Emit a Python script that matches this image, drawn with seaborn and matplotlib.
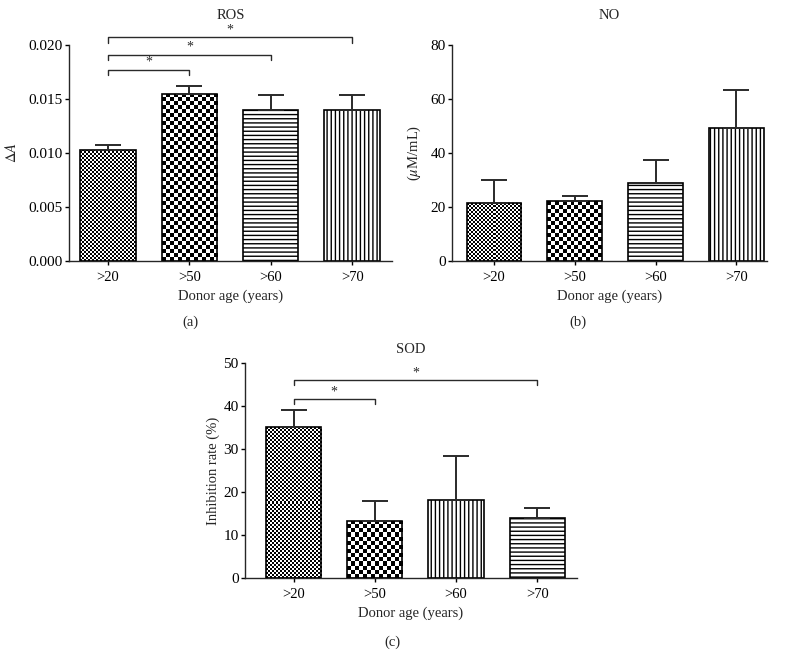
import numpy as np
import pandas as pd
import matplotlib
matplotlib.use("Agg")
import matplotlib.pyplot as plt
import seaborn as sns

# ---------------- data ----------------
ages = [">20", ">50", ">60", ">70"]

ros_mean = [0.0103, 0.0155, 0.0140, 0.0140]
ros_err = [0.0004, 0.0007, 0.0014, 0.0014]

no_mean = [21.3, 22.2, 28.8, 49.3]
no_err = [8.8, 1.7, 8.5, 14.2]

sod_mean = [35.1, 13.3, 18.1, 13.9]
sod_err = [3.9, 4.7, 10.3, 2.3]

ros_sig = [(0, 1, 0.0177), (0, 2, 0.0191), (0, 3, 0.0207)]
sod_sig = [(0, 1, 41.6), (0, 3, 46.0)]

ros_ticks = [0.000, 0.005, 0.010, 0.015, 0.020]
no_ticks = [0, 20, 40, 60, 80]
sod_ticks = [0, 10, 20, 30, 40, 50]

# ---------------- style ----------------
sns.set_style("ticks")
plt.rcParams["font.family"] = ["Liberation Serif", "DejaVu Serif"]
plt.rcParams["mathtext.fontset"] = "stix"
plt.rcParams["hatch.linewidth"] = 1.0
plt.rcParams["axes.linewidth"] = 1.0

DARK = "#2a2a2a"

fig = plt.figure(figsize=(7.85, 6.55), dpi=100)
W, H = 785.0, 655.0


def add_ax(l, r, top, bot):
    return fig.add_axes([l / W, 1 - bot / H, (r - l) / W, (bot - top) / H])


def checker(ax, patch, cell_px):
    x0, y0 = patch.get_x(), patch.get_y()
    w, h = patch.get_width(), patch.get_height()
    p0 = ax.transData.transform((x0, y0))
    p1 = ax.transData.transform((x0 + w, y0 + h))
    nx = max(1, int(round(abs(p1[0] - p0[0]) / cell_px)))
    ny = max(1, int(round(abs(p1[1] - p0[1]) / cell_px)))
    ii, jj = np.indices((ny, nx))
    arr = ((ii + jj) % 2).astype(float)
    im = ax.imshow(arr, cmap="gray", vmin=0, vmax=1, extent=[x0, x0 + w, y0, y0 + h],
                   aspect="auto", interpolation="nearest", origin="lower", zorder=1.5)
    im.set_clip_path(patch)


def panel(ax, means, errs, ticks, ylabel, title, title_y, ylab_x, patterns, xlim, fmt,
          sigs=None, sig_drop=None):
    df = pd.DataFrame({"age": ages, "val": means})
    sns.barplot(data=df, x="age", y="val", ax=ax, width=0.68, color="white",
                edgecolor="black", linewidth=1.2, errorbar=None, zorder=2)
    ax.set_xlim(*xlim)
    ax.set_ylim(ticks[0], ticks[-1])
    ax.set_yticks(ticks)
    ax.set_yticklabels([fmt.format(t) for t in ticks])
    for patch, pat in zip(ax.patches, patterns):
        if pat == "fine":
            patch.set_facecolor("none")
            patch.set_zorder(3)
            checker(ax, patch, 2.0)
        elif pat == "coarse":
            patch.set_facecolor("none")
            patch.set_zorder(3)
            checker(ax, patch, 4.0)
        elif pat == "h":
            patch.set_hatch("----")
        elif pat == "v":
            patch.set_hatch("||||")
    ax.set_xlim(*xlim)
    ax.set_ylim(ticks[0], ticks[-1])
    xs = np.arange(len(ages))
    ax.errorbar(xs, means, yerr=[np.zeros(len(errs)), errs], fmt="none",
                ecolor=DARK, elinewidth=1.4, capsize=9.5, capthick=1.4, zorder=4)
    if sigs:
        for a, b, hgt in sigs:
            ax.plot([a, a, b, b], [hgt - sig_drop, hgt, hgt, hgt - sig_drop], color=DARK,
                    lw=1.0, clip_on=False, zorder=5)
            ax.text((a + b) / 2, hgt + sig_drop * 0.15, "*", ha="center", va="bottom",
                    fontsize=10, color=DARK)
    ax.set_xlabel("Donor age (years)", fontsize=10.5, labelpad=4)
    ax.set_ylabel(ylabel, fontsize=10.5)
    ax.yaxis.set_label_coords(ylab_x, 0.5)
    ax.set_title(title, fontsize=10.5, pad=0, y=title_y)
    ax.tick_params(axis="both", direction="out", length=3, width=1.0, colors="black")
    ax.tick_params(axis="y", labelsize=11, pad=1.5)
    ax.tick_params(axis="x", labelsize=10.5, pad=4.5)
    sns.despine(ax=ax)


ax_a = add_ax(69, 392, 45, 261)
panel(ax_a, ros_mean, ros_err, ros_ticks, r"$\Delta A$", "ROS", 1.12, -0.155,
      ["fine", "coarse", "h", "v"], (-0.48, 3.49), "{:.3f}", ros_sig, 0.0005)

ax_b = add_ax(452, 767, 45, 261)
panel(ax_b, no_mean, no_err, no_ticks, r"($\mu$M/mL)", "NO", 1.12, -0.092,
      ["fine", "coarse", "h", "v"], (-0.52, 3.38), "{:.0f}")

ax_c = add_ax(245, 577, 363, 578)
panel(ax_c, sod_mean, sod_err, sod_ticks, "Inhibition rate (%)", "SOD", 1.047, -0.075,
      ["fine", "coarse", "v", "h"], (-0.6, 3.49), "{:.0f}", sod_sig, 1.2)

fig.text(190 / W, 1 - 322 / H, "(a)", ha="center", va="center", fontsize=10.5)
fig.text(578 / W, 1 - 322 / H, "(b)", ha="center", va="center", fontsize=10.5)
fig.text(392 / W, 1 - 642 / H, "(c)", ha="center", va="center", fontsize=10.5)

fig.savefig("out.png", dpi=100)
